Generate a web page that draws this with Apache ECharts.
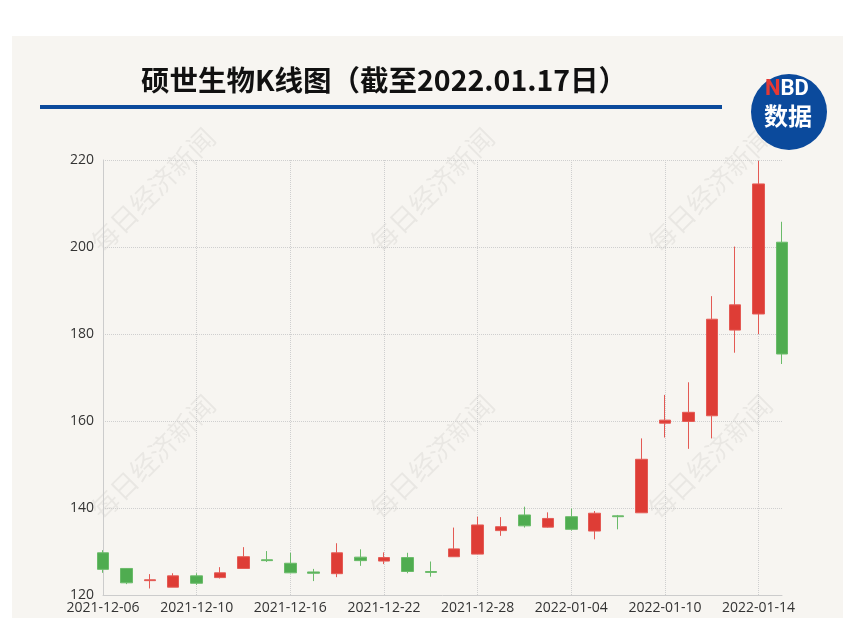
<!DOCTYPE html>
<html>
<head>
<meta charset="utf-8">
<script src="https://cdn.jsdelivr.net/npm/echarts@6/dist/echarts.min.js"></script>
<style>
html,body{margin:0;padding:0;background:#fff;}
#main{width:843px;height:618px;}
</style>
</head>
<body>
<div id="main"></div>
<script>
const dates = ['2021-12-06','2021-12-07','2021-12-08','2021-12-09','2021-12-10',
  '2021-12-13','2021-12-14','2021-12-15','2021-12-16','2021-12-17',
  '2021-12-20','2021-12-21','2021-12-22','2021-12-23','2021-12-24',
  '2021-12-27','2021-12-28','2021-12-29','2021-12-30','2021-12-31',
  '2022-01-04','2022-01-05','2022-01-06','2022-01-07',
  '2022-01-10','2022-01-11','2022-01-12','2022-01-13','2022-01-14','2022-01-17'];
const openP  = [129.7,126.1,123.3,121.8,124.4,124.0,126.1,128.1,127.3,125.3,124.9,128.7,127.8,128.6,125.4,128.8,129.4,134.8,138.4,135.6,138.0,134.7,138.2,138.9,159.5,159.9,161.2,180.9,184.6,201.1];
const closeP = [125.9,122.8,123.5,124.4,122.7,125.1,128.8,127.9,125.1,125.0,129.7,127.9,128.6,125.4,125.2,130.6,136.1,135.7,135.9,137.6,135.1,138.8,138.0,151.2,160.2,162.0,183.4,186.7,214.5,175.4];
const lowP   = [125.1,122.5,121.5,121.8,122.3,123.8,126.1,127.6,125.0,123.2,124.1,126.7,127.1,125.0,124.2,128.8,129.4,133.6,135.5,135.5,134.8,132.8,135.1,138.9,156.2,153.6,156.0,175.7,180.0,173.1];
const highP  = [130.3,126.2,124.8,125.0,125.0,126.4,131.0,130.1,129.7,126.0,131.9,130.5,129.8,129.7,127.7,135.5,138.0,137.9,140.3,139.0,139.9,139.3,138.4,156.0,166.0,168.9,188.7,200.1,219.8,205.8];
const yTicks = {min:120, max:220, interval:20};
const titleText = '硕世生物K线图（截至2022.01.17日）';
const watermark = '每日经济新闻';

const kData = dates.map((d,i)=>[openP[i],closeP[i],lowP[i],highP[i]]);

const chart = echarts.init(document.getElementById('main'));
const wmPos = [[153,190],[432,190],[710,190],[153,457],[432,457],[710,457]];
const graphics = [
  {type:'rect', z:-10, silent:true, shape:{x:12,y:36,width:831,height:582}, style:{fill:'#f7f5f1'}},
  {type:'rect', z:5, shape:{x:40,y:105,width:682,height:4}, style:{fill:'#0b4a9c'}},
  {type:'circle', z:5, shape:{cx:789,cy:112,r:38}, style:{fill:'#0b4a9c'}},
  {type:'text', z:6, left:765, top:78, style:{text:'{r|N}{w|BD}', rich:{r:{fill:'#e53935',fontSize:22,fontWeight:'bold',fontFamily:'Roboto'},w:{fill:'#fff',fontSize:22,fontWeight:'bold',fontFamily:'Roboto'}}}},
  {type:'text', z:6, left:764, top:104, style:{text:'数据', fill:'#fff', fontSize:24, fontWeight:'bold', fontFamily:'Noto Sans CJK SC'}}
];
wmPos.forEach(p=>{
  graphics.push({type:'text', z:-5, silent:true, x:p[0], y:p[1], rotation:Math.PI/4,
    style:{text:watermark, fill:'rgba(0,0,0,0.055)', fontSize:27, fontFamily:'Noto Sans CJK SC', align:'center', verticalAlign:'middle'}});
});

chart.setOption({
  backgroundColor:'#ffffff',
  animation:false,
  title:{text:titleText, left:136, top:61, textStyle:{fontSize:28.5, fontWeight:'bold', color:'#111', fontFamily:'Noto Sans CJK SC'}},
  graphic:graphics,
  grid:{left:103, right:61, top:160, bottom:23},
  xAxis:{type:'category', data:dates, boundaryGap:false,
    axisLine:{lineStyle:{color:'#cccccc'}},
    axisTick:{show:false},
    axisLabel:{interval:3, color:'#333', fontSize:14, margin:6, fontFamily:'Open Sans'},
    splitLine:{show:true, interval:3, lineStyle:{color:'#cfcfcf', type:'dotted'}}
  },
  yAxis:{type:'value', min:yTicks.min, max:yTicks.max, interval:yTicks.interval,
    axisLine:{show:true, lineStyle:{color:'#cccccc'}},
    axisTick:{show:false},
    axisLabel:{color:'#333', fontSize:14, margin:9, fontFamily:'Open Sans'},
    splitLine:{lineStyle:{color:'#cfcfcf', type:'dotted'}}
  },
  series:[{type:'candlestick', data:kData, barWidth:12,
    itemStyle:{color:'#de3d36', color0:'#4fac50', borderColor:'#e45a54', borderColor0:'#6abb69', borderWidth:1}
  }]
});
</script>
</body>
</html>
